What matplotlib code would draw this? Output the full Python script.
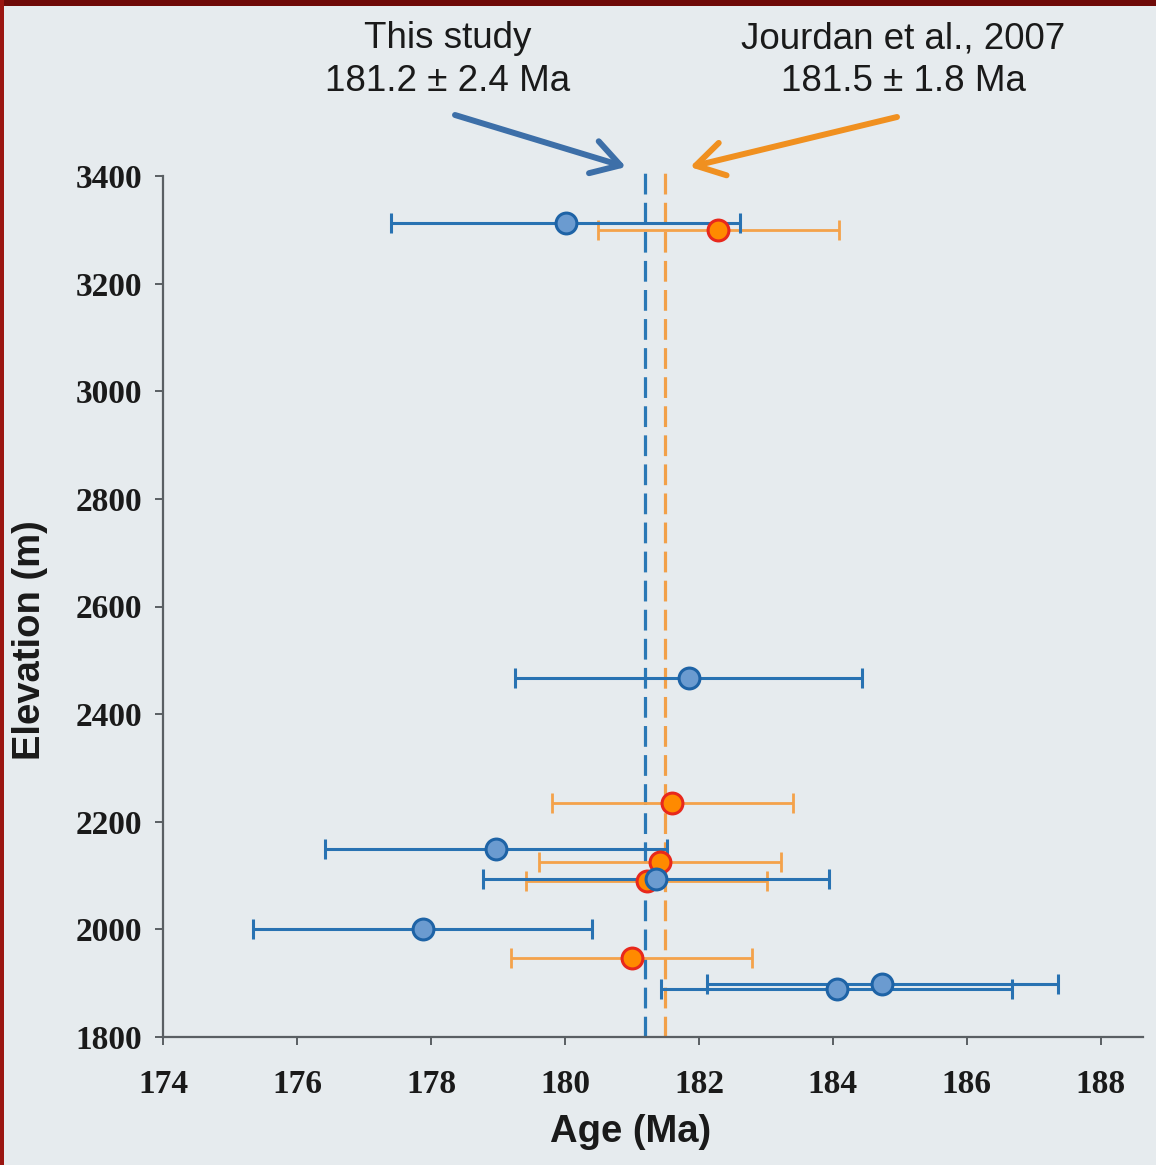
import matplotlib
matplotlib.use("Agg")
import matplotlib.pyplot as plt
from matplotlib.patches import Rectangle

# ---- data ----
blue_age = [180.01, 181.85, 178.97, 181.36, 177.88, 184.06, 184.74]
blue_err = [2.60, 2.59, 2.55, 2.58, 2.53, 2.62, 2.62]
blue_elev = [3313, 2467, 2149, 2093, 2000, 1889, 1898]

orange_age = [182.29, 181.60, 181.42, 181.22, 181.00]
orange_err = [1.80, 1.80, 1.80, 1.80, 1.80]
orange_elev = [3300, 2235, 2125, 2090, 1947]

this_study_age = 181.2
jourdan_age = 181.5

xticks = [174, 176, 178, 180, 182, 184, 186, 188]
yticks = [1800, 2000, 2200, 2400, 2600, 2800, 3000, 3200, 3400]

W, H = 1156, 1165
bg = '#e6ebee'
fig = plt.figure(figsize=(W / 100, H / 100), dpi=100, facecolor=bg)

def fx(px):
    return px / W

def fy(py):
    return 1 - py / H

ax = fig.add_axes([fx(163), fy(1037), fx(1143) - fx(163), fy(176) - fy(1037)])
ax.set_facecolor(bg)
ax.set_xlim(174, 188.63)
ax.set_ylim(1800, 3400)

blue_bar = '#2872b2'
blue_fill = '#6b9bd0'
blue_edge = '#1e63a6'
orange_bar = '#f4a24a'
orange_fill = '#ff8a00'
orange_edge = '#e8281c'

# dashed reference lines
ax.plot([this_study_age, this_study_age], [1800, 3405], color='#2a78b6', lw=2.3,
        dashes=(6.5, 2.6), clip_on=False, zorder=2)
ax.plot([jourdan_age, jourdan_age], [1800, 3405], color='#f2a048', lw=2.3,
        dashes=(6.5, 2.6), clip_on=False, zorder=2)

# error bars
ax.errorbar(orange_age, orange_elev, xerr=orange_err, fmt='none', ecolor=orange_bar,
            elinewidth=2.0, capsize=7.5, capthick=2.0, zorder=3)
ax.errorbar(blue_age, blue_elev, xerr=blue_err, fmt='none', ecolor=blue_bar,
            elinewidth=2.2, capsize=7.5, capthick=2.2, zorder=4)

# markers
ax.plot(orange_age, orange_elev, 'o', ms=15, mfc=orange_fill, mec=orange_edge,
        mew=2.2, ls='none', zorder=5)
ax.plot(blue_age, blue_elev, 'o', ms=15, mfc=blue_fill, mec=blue_edge,
        mew=2.2, ls='none', zorder=6)

# spines / ticks
for s in ['top', 'right']:
    ax.spines[s].set_visible(False)
for s in ['left', 'bottom']:
    ax.spines[s].set_color('#5a5f63')
    ax.spines[s].set_linewidth(1.6)

ax.set_xticks(xticks)
ax.set_yticks(yticks)
ax.set_xticklabels([str(t) for t in xticks])
ax.set_yticklabels([str(t) for t in yticks])
ax.tick_params(axis='both', direction='out', length=6, width=1.4, color='#5a5f63',
               labelcolor='#1a1a1a')
ax.tick_params(axis='x', pad=17)
ax.tick_params(axis='y', pad=9)
for lab in ax.get_xticklabels() + ax.get_yticklabels():
    lab.set_fontfamily('Liberation Serif')
    lab.set_fontweight('bold')
    lab.set_fontsize(24)

ax.set_xlabel('Age (Ma)', fontfamily='Liberation Sans', fontweight='bold',
              fontsize=27.5, color='#1a1a1a', va='center')
ax.xaxis.set_label_coords((631 - 163) / 980, (1037 - 1132) / 861)
ax.set_ylabel('Elevation (m)', fontfamily='Liberation Sans', fontweight='bold',
              fontsize=27.5, color='#1a1a1a', va='center')
ax.yaxis.set_label_coords((30 - 163) / 980, (1037 - 640) / 861)

# annotations
fig.text(fx(448), fy(60), 'This study\n181.2 ± 2.4 Ma', ha='center', va='center',
         fontfamily='Liberation Sans', fontsize=26.5, color='#1a1a1a', linespacing=1.27)
fig.text(fx(903), fy(60), 'Jourdan et al., 2007\n181.5 ± 1.8 Ma', ha='center', va='center',
         fontfamily='Liberation Sans', fontsize=26.5, color='#1a1a1a', linespacing=1.27)

fig.add_artist(matplotlib.patches.FancyArrowPatch(
    (fx(455), fy(115)), (fx(626), fy(167)), transform=fig.transFigure,
    arrowstyle='->,head_length=1.0,head_width=0.6', mutation_scale=20,
    color='#3d6fa8', lw=4.3, shrinkA=0, shrinkB=0, capstyle='round', joinstyle='round'))
fig.add_artist(matplotlib.patches.FancyArrowPatch(
    (fx(897), fy(117)), (fx(690), fy(167)), transform=fig.transFigure,
    arrowstyle='->,head_length=1.0,head_width=0.6', mutation_scale=20,
    color='#f09020', lw=4.3, shrinkA=0, shrinkB=0, capstyle='round', joinstyle='round'))

# dark red frame on top and left
fig.add_artist(Rectangle((0, fy(6)), 1, 6 / H, transform=fig.transFigure,
                         facecolor='#6e0a08', edgecolor='none'))
fig.add_artist(Rectangle((0, 0), 4 / W, 1, transform=fig.transFigure,
                         facecolor='#9a1510', edgecolor='none'))

fig.savefig('out.png', dpi=100, facecolor=bg)
